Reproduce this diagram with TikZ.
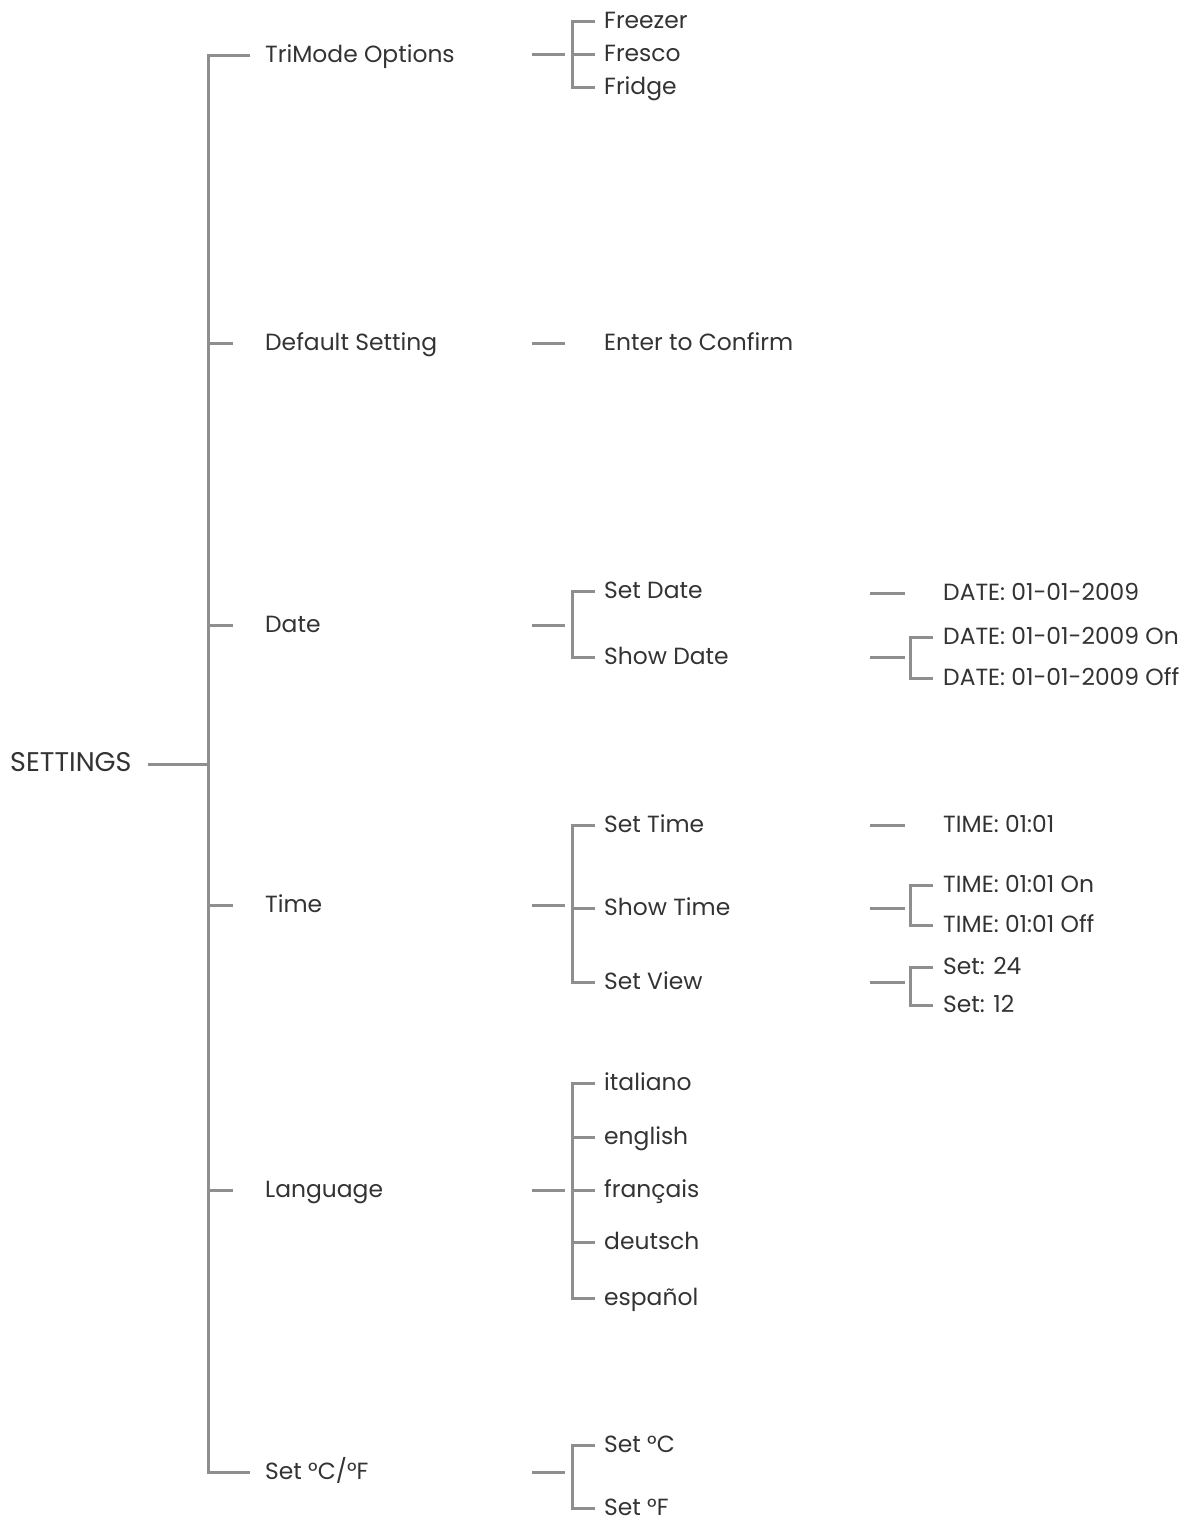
\documentclass[tikz,border=0pt]{standalone}
\usepackage{fontspec}
\setmainfont{Poppins}
\definecolor{ln}{HTML}{8E8E8E}
\definecolor{tx}{HTML}{333333}
\begin{document}
\begin{tikzpicture}[x=1pt,y=-1pt,
  lbl/.style={anchor=west,inner sep=0pt,text height=1.4em,text depth=0pt,
    font=\fontsize{23.4}{23.4}\selectfont,text=tx},
  conn/.style={draw=ln,line width=3pt}]
\useasboundingbox (0,0) rectangle (1193,1526);
% root
\node[lbl,font=\fontsize{27}{27}\selectfont] (root) at (10,764) {SETTINGS};
% level 1
\node[lbl] (tri)  at (265,55)   {TriMode Options};
\node[lbl] (def)  at (265,343)  {Default Setting};
\node[lbl] (date) at (265,625)  {Date};
\node[lbl] (time) at (265,905)  {Time};
\node[lbl] (lang) at (265,1190) {Language};
\node[lbl] (temp) at (265,1472) {Set °C/°F};
% level 2
\node[lbl] (fz) at (604,21) {Freezer};
\node[lbl] (fs) at (604,54) {Fresco};
\node[lbl] (fg) at (604,87) {Fridge};
\node[lbl] (enter) at (604,343) {Enter to Confirm};
\node[lbl] (sd)  at (604,591) {Set Date};
\node[lbl] (shd) at (604,657) {Show Date};
\node[lbl] (st)  at (604,825) {Set Time};
\node[lbl] (sht) at (604,908) {Show Time};
\node[lbl] (sv)  at (604,982) {Set View};
\node[lbl] (it) at (604,1083) {italiano};
\node[lbl] (en) at (604,1137) {english};
\node[lbl] (fr) at (604,1190) {français};
\node[lbl] (de) at (604,1242) {deutsch};
\node[lbl] (es) at (604,1298) {español};
\node[lbl] (sc) at (604,1445) {Set °C};
\node[lbl] (sf) at (604,1508) {Set °F};
% level 3
\node[lbl] (d1) at (943,593) {DATE: 01-01-2009};
\node[lbl] (d2) at (943,637) {DATE: 01-01-2009 On};
\node[lbl] (d3) at (943,678) {DATE: 01-01-2009 Off};
\node[lbl] (t1) at (943,825) {TIME: 01:01};
\node[lbl] (t2) at (943,885) {TIME: 01:01 On};
\node[lbl] (t3) at (943,925) {TIME: 01:01 Off};
\node[lbl] (s24) at (943,967) {Set: 24};
\node[lbl] (s12) at (943,1005) {Set: 12};
% junction coordinates
\coordinate (rootJ) at (root.west -| tri.west);
\coordinate (triJ)  at (fs.west);
\coordinate (defJ)  at (enter.west);
\coordinate (dateJ) at (date.west -| sd.west);
\coordinate (timeJ) at (time.west -| sht.west);
\coordinate (langJ) at (lang.west -| fr.west);
\coordinate (tempJ) at (temp.west -| sc.west);
\coordinate (shdJ)  at (shd.west -| d2.west);
\coordinate (shtJ)  at (sht.west -| t2.west);
\coordinate (svJ)   at (sv.west -| s24.west);
% root link and trunk
\draw[conn] ([xshift=-117pt]rootJ) -- ([xshift=-57pt]rootJ);
\draw[conn] ([xshift=-15pt]tri.west) -| ([xshift=-57pt]temp.west) -- ([xshift=-15pt]temp.west);
\foreach \n in {def,date,time,lang}
  \draw[conn] ([xshift=-57pt]\n.west) -- ([xshift=-32pt]\n.west);
% level 1 -> 2 dashes
\foreach \j in {triJ,defJ,dateJ,timeJ,langJ,tempJ}
  \draw[conn] ([xshift=-72pt]\j) -- ([xshift=-39pt]\j);
% level 2 brackets
\draw[conn] ([xshift=-9pt]fz.west) -| ([xshift=-32pt]fg.west) -- ([xshift=-9pt]fg.west);
\draw[conn] ([xshift=-32pt]fs.west) -- ([xshift=-9pt]fs.west);
\draw[conn] ([xshift=-9pt]sd.west) -| ([xshift=-32pt]shd.west) -- ([xshift=-9pt]shd.west);
\draw[conn] ([xshift=-9pt]st.west) -| ([xshift=-32pt]sv.west) -- ([xshift=-9pt]sv.west);
\draw[conn] ([xshift=-32pt]sht.west) -- ([xshift=-9pt]sht.west);
\draw[conn] ([xshift=-9pt]it.west) -| ([xshift=-32pt]es.west) -- ([xshift=-9pt]es.west);
\foreach \n in {en,fr,de}
  \draw[conn] ([xshift=-32pt]\n.west) -- ([xshift=-9pt]\n.west);
\draw[conn] ([xshift=-9pt]sc.west) -| ([xshift=-32pt]sf.west) -- ([xshift=-9pt]sf.west);
% level 2 -> 3 dashes
\draw[conn] ([xshift=-73pt]d1.west) -- ([xshift=-38pt]d1.west);
\draw[conn] ([xshift=-73pt]t1.west) -- ([xshift=-38pt]t1.west);
\foreach \j in {shdJ,shtJ,svJ}
  \draw[conn] ([xshift=-73pt]\j) -- ([xshift=-38pt]\j);
% level 3 brackets
\draw[conn] ([xshift=-10pt]d2.west) -| ([xshift=-33pt]d3.west) -- ([xshift=-10pt]d3.west);
\draw[conn] ([xshift=-10pt]t2.west) -| ([xshift=-33pt]t3.west) -- ([xshift=-10pt]t3.west);
\draw[conn] ([xshift=-10pt]s24.west) -| ([xshift=-33pt]s12.west) -- ([xshift=-10pt]s12.west);
\end{tikzpicture}
\end{document}
